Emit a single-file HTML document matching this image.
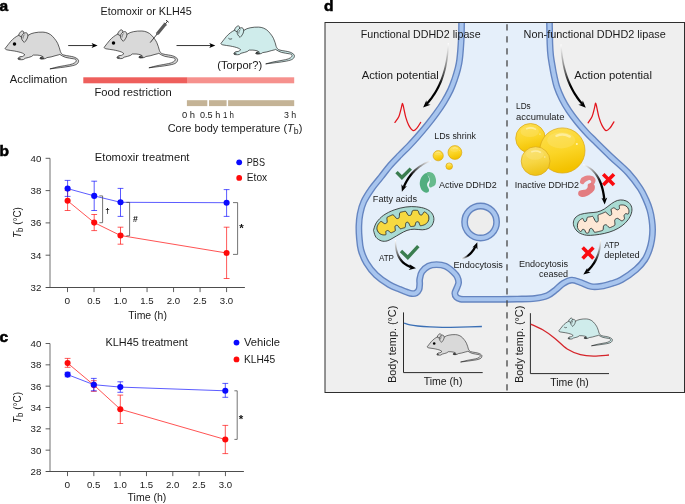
<!DOCTYPE html>
<html lang="en"><head><meta charset="utf-8"><title>Figure</title>
<style>html,body{margin:0;padding:0;background:#fff;}svg{display:block;will-change:transform;}text{font-family:'Liberation Sans', sans-serif;}</style></head>
<body><svg width="685" height="504" viewBox="0 0 685 504">
<rect width="685" height="504" fill="#fff"/>
<defs>
<clipPath id="pc"><rect x="325.5" y="23" width="358.5" height="369"/></clipPath>
<linearGradient id="ldg" x1="0" y1="0" x2="0.25" y2="1"><stop offset="0" stop-color="#fddf55"/><stop offset="0.6" stop-color="#fbd526"/><stop offset="1" stop-color="#f3c200"/></linearGradient>
<linearGradient id="ldg2" x1="0" y1="0" x2="0.25" y2="1"><stop offset="0" stop-color="#fae070"/><stop offset="0.6" stop-color="#f7d644"/><stop offset="1" stop-color="#efc418"/></linearGradient>
<linearGradient id="fa1" gradientUnits="userSpaceOnUse" x1="448.3" y1="43.0" x2="438.6" y2="86.4"><stop offset="0" stop-color="#fff" stop-opacity="0.95"/><stop offset="0.5" stop-color="#8a8a8a"/><stop offset="1" stop-color="#000"/></linearGradient>
<linearGradient id="fa2" gradientUnits="userSpaceOnUse" x1="561.0" y1="44.4" x2="570.9" y2="86.7"><stop offset="0" stop-color="#fff" stop-opacity="0.95"/><stop offset="0.5" stop-color="#8a8a8a"/><stop offset="1" stop-color="#000"/></linearGradient>
<linearGradient id="fa3" gradientUnits="userSpaceOnUse" x1="431.1" y1="160.8" x2="410.5" y2="175.4"><stop offset="0" stop-color="#fff" stop-opacity="0.95"/><stop offset="0.5" stop-color="#8a8a8a"/><stop offset="1" stop-color="#000"/></linearGradient>
<linearGradient id="fa4" gradientUnits="userSpaceOnUse" x1="395.4" y1="240.0" x2="402.8" y2="262.2"><stop offset="0" stop-color="#fff" stop-opacity="0.95"/><stop offset="0.5" stop-color="#8a8a8a"/><stop offset="1" stop-color="#000"/></linearGradient>
<linearGradient id="fa5" gradientUnits="userSpaceOnUse" x1="461.4" y1="258.8" x2="468.2" y2="255.5"><stop offset="0" stop-color="#fff" stop-opacity="0.95"/><stop offset="0.5" stop-color="#8a8a8a"/><stop offset="1" stop-color="#000"/></linearGradient>
<linearGradient id="fa6" gradientUnits="userSpaceOnUse" x1="583.3" y1="164.7" x2="600.5" y2="182.6"><stop offset="0" stop-color="#fff" stop-opacity="0.95"/><stop offset="0.5" stop-color="#8a8a8a"/><stop offset="1" stop-color="#000"/></linearGradient>
<linearGradient id="fa7" gradientUnits="userSpaceOnUse" x1="600.6" y1="239.7" x2="594.1" y2="262.9"><stop offset="0" stop-color="#fff" stop-opacity="0.95"/><stop offset="0.5" stop-color="#8a8a8a"/><stop offset="1" stop-color="#000"/></linearGradient>
</defs>
<text x="-0.6" y="11.2" font-size="15.5" font-weight="bold" fill="#000" stroke="#000" stroke-width="0.55">a</text>
<g transform="translate(0,0) scale(1.0)" stroke="#111" stroke-width="0.650" stroke-linejoin="round" fill="#d9d9d9">
<path d="M5.1,48.5 C7,46 9,43.5 10.7,41.4 C13,38.8 16,36.5 18.6,35.3 C21,34.5 25,34.8 28.2,35.3 C30,34 32,33.2 34.3,32.8 C37,32.2 40,32 42.9,32.1 C46,32.2 50,33.5 52.6,36.4 C55,39 56.8,41.5 57.8,43.7 C59,46.5 59.8,49 60.4,51.5 C61,53.2 62,54.3 63.1,54.8 C65,55.5 67.5,55.8 69.6,56.1 C72,56.5 74.5,57 76.2,58.1 C77.6,58.9 78.5,59.7 78.6,60.7 C78.7,62 78,63.2 76.9,64 C75.5,65 73.5,65.5 71,66 C67.5,66.7 64,67.2 60.4,67.6 C57,68 53.5,68.5 49.9,68.9 C53,68 56,67.3 59.1,66.6 C62.5,65.9 66,65.5 69.6,64.7 C71.5,64.3 73.5,63.7 74.9,62.7 C75.9,62 76.4,61 76.2,60.1 C76,59.3 75,59 73.6,58.8 C71,58.3 68,58 65.7,57.4 C63.5,56.8 61.5,55.5 59.8,54.4 L58.8,54.8 C57.8,55.1 57,55.3 56,55.5 C54.4,56 52.8,56.5 51.1,56.9 C49.7,57.2 48.3,57.4 46.9,57.6 C46.3,58.1 45.8,58.4 45.2,58.6 C44.2,58.9 43,59.05 42,59 C41.2,58.95 40.3,58.9 39.9,58.6 C39.7,58.2 39.9,57.8 40.3,57.6 C41,57.2 41.9,56.9 42.7,56.5 C42.3,56.2 41.8,56 41.3,55.8 C39.9,55.4 38.5,55.2 37.1,55.1 C35.8,55 34.5,55 33.3,55.1 C32.7,55.6 32.1,56.1 31.5,56.5 C30.6,56.9 29.6,57.2 28.7,57.4 C27.5,57.7 26.3,57.9 25.2,58.3 C24.7,58.8 24.1,59.2 23.5,59.5 C22.5,59.75 21.3,59.8 20.3,59.7 C19.5,59.65 18.6,59.6 18.2,59.2 C17.9,58.7 18,58.2 18.3,57.9 C18.8,57.4 19.4,57 20,56.7 C20.8,56.55 21.6,56.6 22.4,56.5 C23.3,56 24.2,55.4 24.9,54.8 C24.2,54.1 23.3,53.5 22.4,53.1 C20.5,52.3 17.5,51.6 14.3,51 C12,50.6 9.5,50.4 7.1,49.9 C6,49.6 5.2,49.2 5.1,48.5Z"/>
<path d="M18.6,35.3 C19,33.8 19.8,32.5 20.7,31.7 C21.4,31.1 22.2,30.8 22.9,31 C23.7,31.3 24,32.2 23.9,33.1 C23.8,34.1 23.4,35.2 22.9,36 L21.5,37Z"/>
<path d="M22.1,39.9 C21.4,38.8 21.2,37.7 21.4,36.7 C21.8,35.2 23,33.8 24.3,33.1 C25,32.7 25.8,32.6 26.4,32.8 C27.5,33.3 28,34.6 27.9,36 C27.8,37.4 27.2,38.8 26.4,39.9 C25.8,40.8 25.1,41.8 24.3,42.4 C23.5,41.8 22.7,40.9 22.1,39.9Z"/>
<path d="M23,38.6 C22.9,37.2 23.5,35.6 24.6,34.6" fill="none" stroke-width="0.520"/>
<path d="M18.4,58.3 L20.4,58.0 M18.3,58.9 L20.8,58.8 M40.2,57.9 L43.6,57.0 M40.1,58.4 L44.2,57.9 M41,58.85 L44,58.5" fill="none" stroke-width="0.585"/>
<circle cx="14.5" cy="44.1" r="1.75" fill="#000" stroke="none"/>
</g>
<g transform="translate(99,-1.1) scale(1.0)" stroke="#111" stroke-width="0.650" stroke-linejoin="round" fill="#d9d9d9">
<path d="M5.1,48.5 C7,46 9,43.5 10.7,41.4 C13,38.8 16,36.5 18.6,35.3 C21,34.5 25,34.8 28.2,35.3 C30,34 32,33.2 34.3,32.8 C37,32.2 40,32 42.9,32.1 C46,32.2 50,33.5 52.6,36.4 C55,39 56.8,41.5 57.8,43.7 C59,46.5 59.8,49 60.4,51.5 C61,53.2 62,54.3 63.1,54.8 C65,55.5 67.5,55.8 69.6,56.1 C72,56.5 74.5,57 76.2,58.1 C77.6,58.9 78.5,59.7 78.6,60.7 C78.7,62 78,63.2 76.9,64 C75.5,65 73.5,65.5 71,66 C67.5,66.7 64,67.2 60.4,67.6 C57,68 53.5,68.5 49.9,68.9 C53,68 56,67.3 59.1,66.6 C62.5,65.9 66,65.5 69.6,64.7 C71.5,64.3 73.5,63.7 74.9,62.7 C75.9,62 76.4,61 76.2,60.1 C76,59.3 75,59 73.6,58.8 C71,58.3 68,58 65.7,57.4 C63.5,56.8 61.5,55.5 59.8,54.4 L58.8,54.8 C57.8,55.1 57,55.3 56,55.5 C54.4,56 52.8,56.5 51.1,56.9 C49.7,57.2 48.3,57.4 46.9,57.6 C46.3,58.1 45.8,58.4 45.2,58.6 C44.2,58.9 43,59.05 42,59 C41.2,58.95 40.3,58.9 39.9,58.6 C39.7,58.2 39.9,57.8 40.3,57.6 C41,57.2 41.9,56.9 42.7,56.5 C42.3,56.2 41.8,56 41.3,55.8 C39.9,55.4 38.5,55.2 37.1,55.1 C35.8,55 34.5,55 33.3,55.1 C32.7,55.6 32.1,56.1 31.5,56.5 C30.6,56.9 29.6,57.2 28.7,57.4 C27.5,57.7 26.3,57.9 25.2,58.3 C24.7,58.8 24.1,59.2 23.5,59.5 C22.5,59.75 21.3,59.8 20.3,59.7 C19.5,59.65 18.6,59.6 18.2,59.2 C17.9,58.7 18,58.2 18.3,57.9 C18.8,57.4 19.4,57 20,56.7 C20.8,56.55 21.6,56.6 22.4,56.5 C23.3,56 24.2,55.4 24.9,54.8 C24.2,54.1 23.3,53.5 22.4,53.1 C20.5,52.3 17.5,51.6 14.3,51 C12,50.6 9.5,50.4 7.1,49.9 C6,49.6 5.2,49.2 5.1,48.5Z"/>
<path d="M18.6,35.3 C19,33.8 19.8,32.5 20.7,31.7 C21.4,31.1 22.2,30.8 22.9,31 C23.7,31.3 24,32.2 23.9,33.1 C23.8,34.1 23.4,35.2 22.9,36 L21.5,37Z"/>
<path d="M22.1,39.9 C21.4,38.8 21.2,37.7 21.4,36.7 C21.8,35.2 23,33.8 24.3,33.1 C25,32.7 25.8,32.6 26.4,32.8 C27.5,33.3 28,34.6 27.9,36 C27.8,37.4 27.2,38.8 26.4,39.9 C25.8,40.8 25.1,41.8 24.3,42.4 C23.5,41.8 22.7,40.9 22.1,39.9Z"/>
<path d="M23,38.6 C22.9,37.2 23.5,35.6 24.6,34.6" fill="none" stroke-width="0.520"/>
<path d="M18.4,58.3 L20.4,58.0 M18.3,58.9 L20.8,58.8 M40.2,57.9 L43.6,57.0 M40.1,58.4 L44.2,57.9 M41,58.85 L44,58.5" fill="none" stroke-width="0.585"/>
<circle cx="14.5" cy="44.1" r="1.75" fill="#000" stroke="none"/>
</g>
<g transform="translate(215.8,-5) scale(1.0)" stroke="#111" stroke-width="0.650" stroke-linejoin="round" fill="#cfeceb">
<path d="M5.1,48.5 C7,46 9,43.5 10.7,41.4 C13,38.8 16,36.5 18.6,35.3 C21,34.5 25,34.8 28.2,35.3 C30,34 32,33.2 34.3,32.8 C37,32.2 40,32 42.9,32.1 C46,32.2 50,33.5 52.6,36.4 C55,39 56.8,41.5 57.8,43.7 C59,46.5 59.8,49 60.4,51.5 C61,53.2 62,54.3 63.1,54.8 C65,55.5 67.5,55.8 69.6,56.1 C72,56.5 74.5,57 76.2,58.1 C77.6,58.9 78.5,59.7 78.6,60.7 C78.7,62 78,63.2 76.9,64 C75.5,65 73.5,65.5 71,66 C67.5,66.7 64,67.2 60.4,67.6 C57,68 53.5,68.5 49.9,68.9 C53,68 56,67.3 59.1,66.6 C62.5,65.9 66,65.5 69.6,64.7 C71.5,64.3 73.5,63.7 74.9,62.7 C75.9,62 76.4,61 76.2,60.1 C76,59.3 75,59 73.6,58.8 C71,58.3 68,58 65.7,57.4 C63.5,56.8 61.5,55.5 59.8,54.4 L58.8,54.8 C57.8,55.1 57,55.3 56,55.5 C54.4,56 52.8,56.5 51.1,56.9 C49.7,57.2 48.3,57.4 46.9,57.6 C46.3,58.1 45.8,58.4 45.2,58.6 C44.2,58.9 43,59.05 42,59 C41.2,58.95 40.3,58.9 39.9,58.6 C39.7,58.2 39.9,57.8 40.3,57.6 C41,57.2 41.9,56.9 42.7,56.5 C42.3,56.2 41.8,56 41.3,55.8 C39.9,55.4 38.5,55.2 37.1,55.1 C35.8,55 34.5,55 33.3,55.1 C32.7,55.6 32.1,56.1 31.5,56.5 C30.6,56.9 29.6,57.2 28.7,57.4 C27.5,57.7 26.3,57.9 25.2,58.3 C24.7,58.8 24.1,59.2 23.5,59.5 C22.5,59.75 21.3,59.8 20.3,59.7 C19.5,59.65 18.6,59.6 18.2,59.2 C17.9,58.7 18,58.2 18.3,57.9 C18.8,57.4 19.4,57 20,56.7 C20.8,56.55 21.6,56.6 22.4,56.5 C23.3,56 24.2,55.4 24.9,54.8 C24.2,54.1 23.3,53.5 22.4,53.1 C20.5,52.3 17.5,51.6 14.3,51 C12,50.6 9.5,50.4 7.1,49.9 C6,49.6 5.2,49.2 5.1,48.5Z"/>
<path d="M18.6,35.3 C19,33.8 19.8,32.5 20.7,31.7 C21.4,31.1 22.2,30.8 22.9,31 C23.7,31.3 24,32.2 23.9,33.1 C23.8,34.1 23.4,35.2 22.9,36 L21.5,37Z"/>
<path d="M22.1,39.9 C21.4,38.8 21.2,37.7 21.4,36.7 C21.8,35.2 23,33.8 24.3,33.1 C25,32.7 25.8,32.6 26.4,32.8 C27.5,33.3 28,34.6 27.9,36 C27.8,37.4 27.2,38.8 26.4,39.9 C25.8,40.8 25.1,41.8 24.3,42.4 C23.5,41.8 22.7,40.9 22.1,39.9Z"/>
<path d="M23,38.6 C22.9,37.2 23.5,35.6 24.6,34.6" fill="none" stroke-width="0.520"/>
<path d="M18.4,58.3 L20.4,58.0 M18.3,58.9 L20.8,58.8 M40.2,57.9 L43.6,57.0 M40.1,58.4 L44.2,57.9 M41,58.85 L44,58.5" fill="none" stroke-width="0.585"/>
<path d="M12.6,43.2 C13.5,44.3 15,44.4 16.3,43.6" fill="none"/>
</g>
<g stroke="#222" fill="none" stroke-linecap="butt"><line x1="150.2" y1="42.6" x2="157.2" y2="34.0" stroke-width="0.85"/><line x1="157.4" y1="33.8" x2="165.3" y2="24.0" stroke-width="3.2" stroke="#5a5a5a"/><path d="M156.3,35.2 L155.9,32.6 L158.4,34.6Z" fill="#5a5a5a" stroke="none"/><line x1="163.9" y1="22.8" x2="166.8" y2="25.1" stroke-width="0.9" stroke="#444"/><line x1="165.3" y1="24.0" x2="167.5" y2="21.2" stroke-width="0.9"/><line x1="166.1" y1="20.2" x2="168.7" y2="22.3" stroke-width="0.95"/></g>
<line x1="68.2" y1="45.55" x2="94.6" y2="45.55" stroke="#000" stroke-width="0.8"/>
<path d="M97.6,45.55 L91.6,43.0 L93.0,45.55 L91.6,48.1Z" fill="#000"/>
<line x1="176.5" y1="45.55" x2="212.3" y2="45.55" stroke="#000" stroke-width="0.8"/>
<path d="M215.3,45.55 L209.3,43.0 L210.70000000000002,45.55 L209.3,48.1Z" fill="#000"/>
<text x="100.6" y="14.5" font-size="10.4" textLength="91.1" lengthAdjust="spacingAndGlyphs" fill="#1a1a1a">Etomoxir or KLH45</text>
<text x="9.8" y="83.4" font-size="10.4" textLength="57.5" lengthAdjust="spacingAndGlyphs" fill="#1a1a1a">Acclimation</text>
<text x="217.2" y="69" font-size="10.4" textLength="45" lengthAdjust="spacingAndGlyphs" fill="#1a1a1a">(Torpor?)</text>
<rect x="83.3" y="77.3" width="103.8" height="6.0" fill="#ee5f5c"/>
<rect x="187" y="77.3" width="107.2" height="6.0" fill="#f6918d"/>
<text x="94.5" y="95.8" font-size="10.4" textLength="77.1" lengthAdjust="spacingAndGlyphs" fill="#1a1a1a">Food restriction</text>
<rect x="186.9" y="100.2" width="20.4" height="5.9" fill="#c4b396"/>
<rect x="209" y="100.2" width="17.6" height="5.9" fill="#c4b396"/>
<rect x="228.1" y="100.2" width="66.1" height="5.9" fill="#c4b396"/>
<text x="181.9" y="117.7" font-size="8.5" textLength="13.1" lengthAdjust="spacingAndGlyphs" fill="#1a1a1a">0 h</text>
<text x="200" y="117.7" font-size="8.5" textLength="20.2" lengthAdjust="spacingAndGlyphs" fill="#1a1a1a">0.5 h</text>
<text x="223" y="117.7" font-size="8.5" textLength="11" lengthAdjust="spacingAndGlyphs" fill="#1a1a1a">1 h</text>
<text x="283.9" y="117.7" font-size="8.5" textLength="12.3" lengthAdjust="spacingAndGlyphs" fill="#1a1a1a">3 h</text>
<text x="167.7" y="132" font-size="10.4" textLength="134.6" lengthAdjust="spacingAndGlyphs" fill="#1a1a1a">Core body temperature (<tspan font-style="italic">T</tspan><tspan dy="2.4" font-size="8.3">b</tspan><tspan dy="-2.4">)</tspan></text>
<text x="-0.6" y="156.3" font-size="15.5" font-weight="bold" fill="#000" stroke="#000" stroke-width="0.55">b</text>
<line x1="50.0" y1="158.3" x2="50.0" y2="287.5" stroke="#4d4d4d" stroke-width="0.8"/>
<line x1="45.6" y1="287.5" x2="244.9" y2="287.5" stroke="#4d4d4d" stroke-width="1"/>
<line x1="45.6" y1="158.30" x2="50.0" y2="158.30" stroke="#4d4d4d" stroke-width="0.9"/>
<text x="41.3" y="161.65" font-size="9.6" text-anchor="end" textLength="10.8" lengthAdjust="spacingAndGlyphs" fill="#1a1a1a">40</text>
<line x1="45.6" y1="190.60" x2="50.0" y2="190.60" stroke="#4d4d4d" stroke-width="0.9"/>
<text x="41.3" y="193.95" font-size="9.6" text-anchor="end" textLength="10.8" lengthAdjust="spacingAndGlyphs" fill="#1a1a1a">38</text>
<line x1="45.6" y1="222.90" x2="50.0" y2="222.90" stroke="#4d4d4d" stroke-width="0.9"/>
<text x="41.3" y="226.25" font-size="9.6" text-anchor="end" textLength="10.8" lengthAdjust="spacingAndGlyphs" fill="#1a1a1a">36</text>
<line x1="45.6" y1="255.20" x2="50.0" y2="255.20" stroke="#4d4d4d" stroke-width="0.9"/>
<text x="41.3" y="258.55" font-size="9.6" text-anchor="end" textLength="10.8" lengthAdjust="spacingAndGlyphs" fill="#1a1a1a">34</text>
<text x="41.3" y="290.85" font-size="9.6" text-anchor="end" textLength="10.8" lengthAdjust="spacingAndGlyphs" fill="#1a1a1a">32</text>
<line x1="67.50" y1="287.5" x2="67.50" y2="292.1" stroke="#4d4d4d" stroke-width="0.9"/>
<text x="67.4" y="303.9" font-size="9.6" text-anchor="middle" textLength="5.6" lengthAdjust="spacingAndGlyphs" fill="#1a1a1a">0</text>
<line x1="94.02" y1="287.5" x2="94.02" y2="292.1" stroke="#4d4d4d" stroke-width="0.9"/>
<text x="93.92" y="303.9" font-size="9.6" text-anchor="middle" textLength="13.4" lengthAdjust="spacingAndGlyphs" fill="#1a1a1a">0.5</text>
<line x1="120.53" y1="287.5" x2="120.53" y2="292.1" stroke="#4d4d4d" stroke-width="0.9"/>
<text x="120.43" y="303.9" font-size="9.6" text-anchor="middle" textLength="13.4" lengthAdjust="spacingAndGlyphs" fill="#1a1a1a">1.0</text>
<line x1="147.05" y1="287.5" x2="147.05" y2="292.1" stroke="#4d4d4d" stroke-width="0.9"/>
<text x="146.95" y="303.9" font-size="9.6" text-anchor="middle" textLength="13.4" lengthAdjust="spacingAndGlyphs" fill="#1a1a1a">1.5</text>
<line x1="173.56" y1="287.5" x2="173.56" y2="292.1" stroke="#4d4d4d" stroke-width="0.9"/>
<text x="173.46" y="303.9" font-size="9.6" text-anchor="middle" textLength="13.4" lengthAdjust="spacingAndGlyphs" fill="#1a1a1a">2.0</text>
<line x1="200.07" y1="287.5" x2="200.07" y2="292.1" stroke="#4d4d4d" stroke-width="0.9"/>
<text x="199.97" y="303.9" font-size="9.6" text-anchor="middle" textLength="13.4" lengthAdjust="spacingAndGlyphs" fill="#1a1a1a">2.5</text>
<line x1="226.59" y1="287.5" x2="226.59" y2="292.1" stroke="#4d4d4d" stroke-width="0.9"/>
<text x="226.49" y="303.9" font-size="9.6" text-anchor="middle" textLength="13.4" lengthAdjust="spacingAndGlyphs" fill="#1a1a1a">3.0</text>
<text x="94.8" y="161" font-size="10.4" textLength="94.7" lengthAdjust="spacingAndGlyphs" fill="#1a1a1a">Etomoxir treatment</text>
<path d="M67.6,200.8 L94.2,222.6 L120.5,235.5 L226.6,253" stroke="#ff4040" stroke-width="0.9" fill="none"/>
<path d="M67.6,190.6 V210.5 M64.69999999999999,190.6 H70.5 M64.69999999999999,210.5 H70.5" stroke="#ff0a0a" stroke-width="0.68" fill="none"/>
<path d="M94.2,214.5 V230.6 M91.3,214.5 H97.10000000000001 M91.3,230.6 H97.10000000000001" stroke="#ff0a0a" stroke-width="0.68" fill="none"/>
<path d="M120.5,227.2 V244.2 M117.6,227.2 H123.4 M117.6,244.2 H123.4" stroke="#ff0a0a" stroke-width="0.68" fill="none"/>
<path d="M226.6,227.2 V278.5 M223.7,227.2 H229.5 M223.7,278.5 H229.5" stroke="#ff0a0a" stroke-width="0.68" fill="none"/>
<circle cx="67.6" cy="200.8" r="3.05" fill="#ff0a0a"/>
<circle cx="94.2" cy="222.6" r="3.05" fill="#ff0a0a"/>
<circle cx="120.5" cy="235.5" r="3.05" fill="#ff0a0a"/>
<circle cx="226.6" cy="253" r="3.05" fill="#ff0a0a"/>
<path d="M67.6,188.6 L94.2,195.9 L120.5,202.3 L226.6,202.7" stroke="#4a4aff" stroke-width="0.9" fill="none"/>
<path d="M67.6,180.4 V196.4 M64.69999999999999,180.4 H70.5 M64.69999999999999,196.4 H70.5" stroke="#0a0aff" stroke-width="0.68" fill="none"/>
<path d="M94.2,181.2 V210.5 M91.3,181.2 H97.10000000000001 M91.3,210.5 H97.10000000000001" stroke="#0a0aff" stroke-width="0.68" fill="none"/>
<path d="M120.5,188.4 V216.4 M117.6,188.4 H123.4 M117.6,216.4 H123.4" stroke="#0a0aff" stroke-width="0.68" fill="none"/>
<path d="M226.6,189.6 V216.4 M223.7,189.6 H229.5 M223.7,216.4 H229.5" stroke="#0a0aff" stroke-width="0.68" fill="none"/>
<circle cx="67.6" cy="188.6" r="3.05" fill="#0a0aff"/>
<circle cx="94.2" cy="195.9" r="3.05" fill="#0a0aff"/>
<circle cx="120.5" cy="202.3" r="3.05" fill="#0a0aff"/>
<circle cx="226.6" cy="202.7" r="3.05" fill="#0a0aff"/>
<path d="M99.4,195.9 H102.6 V222.7 H99.4" stroke="#3a3a3a" stroke-width="0.7" fill="none"/>
<path d="M126.4,202.4 H129.6 V235.8 H126.4" stroke="#3a3a3a" stroke-width="0.7" fill="none"/>
<path d="M233,202.6 H237.6 V254.4 H233" stroke="#3a3a3a" stroke-width="0.7" fill="none"/>
<text x="107.5" y="212.8" font-size="8" text-anchor="middle" font-weight="bold" fill="#111">†</text>
<text x="135.3" y="221.8" font-size="8.6" text-anchor="middle" font-weight="bold" fill="#111">#</text>
<text x="241.6" y="232.4" font-size="11.5" text-anchor="middle" font-weight="bold" fill="#111">*</text>
<circle cx="239.2" cy="162.3" r="2.9" fill="#0a0aff"/><circle cx="239.2" cy="177.9" r="2.9" fill="#ff0a0a"/>
<text x="246.8" y="165.8" font-size="10.4" textLength="18.2" lengthAdjust="spacingAndGlyphs" fill="#1a1a1a">PBS</text>
<text x="246.8" y="181.4" font-size="10.4" textLength="20.4" lengthAdjust="spacingAndGlyphs" fill="#1a1a1a">Etox</text>
<text x="128.3" y="319.3" font-size="10.4" textLength="38.6" lengthAdjust="spacingAndGlyphs" fill="#1a1a1a">Time (h)</text>
<g transform="translate(20.6,222.6) rotate(-90)">
<text x="0" y="0" font-size="10.4" text-anchor="middle" textLength="31" lengthAdjust="spacingAndGlyphs" fill="#1a1a1a"><tspan font-style="italic">T</tspan><tspan dy="2.5" font-size="8.3">b</tspan><tspan dy="-2.5"> (°C)</tspan></text>
</g>
<text x="-0.6" y="342.3" font-size="15.5" font-weight="bold" fill="#000" stroke="#000" stroke-width="0.55">c</text>
<line x1="50.0" y1="343.5" x2="50.0" y2="471.5" stroke="#4d4d4d" stroke-width="0.8"/>
<line x1="45.6" y1="471.5" x2="243.9" y2="471.5" stroke="#4d4d4d" stroke-width="1"/>
<line x1="45.6" y1="343.50" x2="50.0" y2="343.50" stroke="#4d4d4d" stroke-width="0.9"/>
<text x="41.3" y="346.85" font-size="9.6" text-anchor="end" textLength="10.8" lengthAdjust="spacingAndGlyphs" fill="#1a1a1a">40</text>
<line x1="45.6" y1="364.83" x2="50.0" y2="364.83" stroke="#4d4d4d" stroke-width="0.9"/>
<text x="41.3" y="368.18" font-size="9.6" text-anchor="end" textLength="10.8" lengthAdjust="spacingAndGlyphs" fill="#1a1a1a">38</text>
<line x1="45.6" y1="386.17" x2="50.0" y2="386.17" stroke="#4d4d4d" stroke-width="0.9"/>
<text x="41.3" y="389.52" font-size="9.6" text-anchor="end" textLength="10.8" lengthAdjust="spacingAndGlyphs" fill="#1a1a1a">36</text>
<line x1="45.6" y1="407.50" x2="50.0" y2="407.50" stroke="#4d4d4d" stroke-width="0.9"/>
<text x="41.3" y="410.85" font-size="9.6" text-anchor="end" textLength="10.8" lengthAdjust="spacingAndGlyphs" fill="#1a1a1a">34</text>
<line x1="45.6" y1="428.83" x2="50.0" y2="428.83" stroke="#4d4d4d" stroke-width="0.9"/>
<text x="41.3" y="432.18" font-size="9.6" text-anchor="end" textLength="10.8" lengthAdjust="spacingAndGlyphs" fill="#1a1a1a">32</text>
<line x1="45.6" y1="450.17" x2="50.0" y2="450.17" stroke="#4d4d4d" stroke-width="0.9"/>
<text x="41.3" y="453.52" font-size="9.6" text-anchor="end" textLength="10.8" lengthAdjust="spacingAndGlyphs" fill="#1a1a1a">30</text>
<text x="41.3" y="474.85" font-size="9.6" text-anchor="end" textLength="10.8" lengthAdjust="spacingAndGlyphs" fill="#1a1a1a">28</text>
<line x1="67.50" y1="471.5" x2="67.50" y2="476.1" stroke="#4d4d4d" stroke-width="0.9"/>
<text x="67.4" y="487.5" font-size="9.6" text-anchor="middle" textLength="5.6" lengthAdjust="spacingAndGlyphs" fill="#1a1a1a">0</text>
<line x1="93.83" y1="471.5" x2="93.83" y2="476.1" stroke="#4d4d4d" stroke-width="0.9"/>
<text x="93.73" y="487.5" font-size="9.6" text-anchor="middle" textLength="13.4" lengthAdjust="spacingAndGlyphs" fill="#1a1a1a">0.5</text>
<line x1="120.15" y1="471.5" x2="120.15" y2="476.1" stroke="#4d4d4d" stroke-width="0.9"/>
<text x="120.05" y="487.5" font-size="9.6" text-anchor="middle" textLength="13.4" lengthAdjust="spacingAndGlyphs" fill="#1a1a1a">1.0</text>
<line x1="146.47" y1="471.5" x2="146.47" y2="476.1" stroke="#4d4d4d" stroke-width="0.9"/>
<text x="146.38" y="487.5" font-size="9.6" text-anchor="middle" textLength="13.4" lengthAdjust="spacingAndGlyphs" fill="#1a1a1a">1.5</text>
<line x1="172.80" y1="471.5" x2="172.80" y2="476.1" stroke="#4d4d4d" stroke-width="0.9"/>
<text x="172.7" y="487.5" font-size="9.6" text-anchor="middle" textLength="13.4" lengthAdjust="spacingAndGlyphs" fill="#1a1a1a">2.0</text>
<line x1="199.12" y1="471.5" x2="199.12" y2="476.1" stroke="#4d4d4d" stroke-width="0.9"/>
<text x="199.03" y="487.5" font-size="9.6" text-anchor="middle" textLength="13.4" lengthAdjust="spacingAndGlyphs" fill="#1a1a1a">2.5</text>
<line x1="225.45" y1="471.5" x2="225.45" y2="476.1" stroke="#4d4d4d" stroke-width="0.9"/>
<text x="225.35" y="487.5" font-size="9.6" text-anchor="middle" textLength="13.4" lengthAdjust="spacingAndGlyphs" fill="#1a1a1a">3.0</text>
<text x="105.5" y="345.5" font-size="10.4" textLength="82.3" lengthAdjust="spacingAndGlyphs" fill="#1a1a1a">KLH45 treatment</text>
<path d="M67.6,363.1 L93.8,385.0 L120.3,409.2 L225.3,439.5" stroke="#ff4040" stroke-width="0.9" fill="none"/>
<path d="M67.6,358.4 V367.3 M64.69999999999999,358.4 H70.5 M64.69999999999999,367.3 H70.5" stroke="#ff0a0a" stroke-width="0.68" fill="none"/>
<path d="M93.8,380.7 V391.3 M90.89999999999999,380.7 H96.7 M90.89999999999999,391.3 H96.7" stroke="#ff0a0a" stroke-width="0.68" fill="none"/>
<path d="M120.3,395.1 V423.5 M117.39999999999999,395.1 H123.2 M117.39999999999999,423.5 H123.2" stroke="#ff0a0a" stroke-width="0.68" fill="none"/>
<path d="M225.3,425.4 V453.6 M222.4,425.4 H228.20000000000002 M222.4,453.6 H228.20000000000002" stroke="#ff0a0a" stroke-width="0.68" fill="none"/>
<circle cx="67.6" cy="363.1" r="3.05" fill="#ff0a0a"/>
<circle cx="93.8" cy="385.0" r="3.05" fill="#ff0a0a"/>
<circle cx="120.3" cy="409.2" r="3.05" fill="#ff0a0a"/>
<circle cx="225.3" cy="439.5" r="3.05" fill="#ff0a0a"/>
<path d="M67.6,374.6 L93.8,384.7 L120.3,387.1 L225.3,390.8" stroke="#4a4aff" stroke-width="0.9" fill="none"/>
<path d="M67.6,372.3 V376.8 M64.69999999999999,372.3 H70.5 M64.69999999999999,376.8 H70.5" stroke="#0a0aff" stroke-width="0.68" fill="none"/>
<path d="M93.8,378.4 V390.8 M90.89999999999999,378.4 H96.7 M90.89999999999999,390.8 H96.7" stroke="#0a0aff" stroke-width="0.68" fill="none"/>
<path d="M120.3,381.8 V392.3 M117.39999999999999,381.8 H123.2 M117.39999999999999,392.3 H123.2" stroke="#0a0aff" stroke-width="0.68" fill="none"/>
<path d="M225.3,383.4 V397.3 M222.4,383.4 H228.20000000000002 M222.4,397.3 H228.20000000000002" stroke="#0a0aff" stroke-width="0.68" fill="none"/>
<circle cx="67.6" cy="374.6" r="3.05" fill="#0a0aff"/>
<circle cx="93.8" cy="384.7" r="3.05" fill="#0a0aff"/>
<circle cx="120.3" cy="387.1" r="3.05" fill="#0a0aff"/>
<circle cx="225.3" cy="390.8" r="3.05" fill="#0a0aff"/>
<path d="M234.4,390.8 H237.2 V439.4 H234.4" stroke="#3a3a3a" stroke-width="0.7" fill="none"/>
<text x="241.1" y="423.2" font-size="11.5" text-anchor="middle" font-weight="bold" fill="#111">*</text>
<circle cx="236.5" cy="342.6" r="2.9" fill="#0a0aff"/><circle cx="236.5" cy="359.4" r="2.9" fill="#ff0a0a"/>
<text x="243.9" y="346.3" font-size="10.4" textLength="36.1" lengthAdjust="spacingAndGlyphs" fill="#1a1a1a">Vehicle</text>
<text x="243.9" y="362.9" font-size="10.4" textLength="31.3" lengthAdjust="spacingAndGlyphs" fill="#1a1a1a">KLH45</text>
<text x="127.6" y="501.2" font-size="10.4" textLength="38.7" lengthAdjust="spacingAndGlyphs" fill="#1a1a1a">Time (h)</text>
<g transform="translate(20.6,407.5) rotate(-90)">
<text x="0" y="0" font-size="10.4" text-anchor="middle" textLength="31" lengthAdjust="spacingAndGlyphs" fill="#1a1a1a"><tspan font-style="italic">T</tspan><tspan dy="2.5" font-size="8.3">b</tspan><tspan dy="-2.5"> (°C)</tspan></text>
</g>
<text x="324.0" y="10.7" font-size="15.5" font-weight="bold" fill="#000" stroke="#000" stroke-width="0.55">d</text>
<rect x="325" y="22.5" width="359.5" height="370" fill="#efefef" stroke="#2e2e2e" stroke-width="1"/>
<g clip-path="url(#pc)">
<path d="M461.60,18.00C461.60,18.83 461.67,19.37 461.60,23.00C461.53,26.63 461.53,33.68 461.20,39.80C460.87,45.92 460.20,54.73 459.60,59.70C459.00,64.67 458.43,66.30 457.60,69.60C456.77,72.90 455.78,76.10 454.60,79.50C453.42,82.90 452.27,86.27 450.50,90.00C448.73,93.73 446.42,97.93 444.00,101.90C441.58,105.87 438.87,109.83 436.00,113.80C433.13,117.77 430.02,121.73 426.80,125.70C423.58,129.67 419.75,134.13 416.70,137.60C413.65,141.07 411.28,143.60 408.50,146.50C405.72,149.40 403.00,151.92 400.00,155.00C397.00,158.08 393.67,161.33 390.50,165.00C387.33,168.67 384.17,173.00 381.00,177.00C377.83,181.00 374.38,184.85 371.50,189.00C368.62,193.15 365.60,197.77 363.70,201.90C361.80,206.03 360.90,209.83 360.10,213.80C359.30,217.77 359.03,221.73 358.90,225.70C358.77,229.67 358.95,233.55 359.30,237.60C359.65,241.65 359.80,245.77 361.00,250.00C362.20,254.23 364.00,258.83 366.50,263.00C369.00,267.17 372.25,271.42 376.00,275.00C379.75,278.58 385.00,282.10 389.00,284.50C393.00,286.90 396.95,288.10 400.00,289.40C403.05,290.70 405.30,291.60 407.30,292.30C409.30,293.00 410.55,293.48 412.00,293.60C413.45,293.72 414.83,293.68 416.00,293.00C417.17,292.32 418.38,291.00 419.00,289.50C419.62,288.00 419.58,285.72 419.70,284.00C419.82,282.28 419.33,281.22 419.70,279.20C420.07,277.18 420.43,274.08 421.90,271.90C423.37,269.72 426.07,267.32 428.50,266.10C430.93,264.88 433.70,264.60 436.50,264.60C439.30,264.60 442.50,264.88 445.30,266.10C448.10,267.32 451.30,270.08 453.30,271.90C455.30,273.72 456.42,275.18 457.30,277.00C458.18,278.82 458.72,280.88 458.60,282.80C458.48,284.72 457.23,286.77 456.60,288.50C455.97,290.23 454.83,291.75 454.80,293.20C454.77,294.65 455.45,296.22 456.40,297.20C457.35,298.18 458.90,298.75 460.50,299.10C462.10,299.45 462.75,299.27 466.00,299.30C469.25,299.33 474.33,299.30 480.00,299.30C485.67,299.30 493.75,299.33 500.00,299.30C506.25,299.27 511.67,299.25 517.50,299.10C523.33,298.95 530.03,298.98 535.00,298.40C539.97,297.82 543.78,297.08 547.30,295.60C550.82,294.12 553.47,291.52 556.10,289.50C558.73,287.48 560.48,285.07 563.10,283.50C565.72,281.93 568.88,280.27 571.80,280.10C574.72,279.93 577.38,281.43 580.60,282.50C583.82,283.57 587.60,285.88 591.10,286.50C594.60,287.12 598.10,286.72 601.60,286.20C605.10,285.68 608.78,284.47 612.10,283.40C615.42,282.33 617.48,282.13 621.50,279.80C625.52,277.47 632.30,272.78 636.20,269.40C640.10,266.02 642.70,262.80 644.90,259.50C647.10,256.20 648.25,252.90 649.40,249.60C650.55,246.30 651.27,243.00 651.80,239.70C652.33,236.40 652.60,233.12 652.60,229.80C652.60,226.48 652.27,223.12 651.80,219.80C651.33,216.48 650.75,213.20 649.80,209.90C648.85,206.60 647.70,203.57 646.10,200.00C644.50,196.43 643.22,193.07 640.20,188.50C637.18,183.93 632.88,177.90 628.00,172.60C623.12,167.30 616.45,161.98 610.90,156.70C605.35,151.42 598.68,144.82 594.70,140.90C590.72,136.98 589.83,136.25 587.00,133.20C584.17,130.15 580.73,126.35 577.70,122.60C574.67,118.85 571.43,114.67 568.80,110.70C566.17,106.73 563.88,102.77 561.90,98.80C559.92,94.83 558.22,90.87 556.90,86.90C555.58,82.93 554.72,78.22 554.00,75.00C553.28,71.78 553.15,70.82 552.60,67.60C552.05,64.38 551.15,59.67 550.70,55.70C550.25,51.73 550.10,49.15 549.90,43.80C549.70,38.45 549.57,27.90 549.50,23.60C549.43,19.30 549.50,18.93 549.50,18.00Z" fill="#e5effa"/>
<path d="M461.60,18.00C461.60,18.83 461.67,19.37 461.60,23.00C461.53,26.63 461.53,33.68 461.20,39.80C460.87,45.92 460.20,54.73 459.60,59.70C459.00,64.67 458.43,66.30 457.60,69.60C456.77,72.90 455.78,76.10 454.60,79.50C453.42,82.90 452.27,86.27 450.50,90.00C448.73,93.73 446.42,97.93 444.00,101.90C441.58,105.87 438.87,109.83 436.00,113.80C433.13,117.77 430.02,121.73 426.80,125.70C423.58,129.67 419.75,134.13 416.70,137.60C413.65,141.07 411.28,143.60 408.50,146.50C405.72,149.40 403.00,151.92 400.00,155.00C397.00,158.08 393.67,161.33 390.50,165.00C387.33,168.67 384.17,173.00 381.00,177.00C377.83,181.00 374.38,184.85 371.50,189.00C368.62,193.15 365.60,197.77 363.70,201.90C361.80,206.03 360.90,209.83 360.10,213.80C359.30,217.77 359.03,221.73 358.90,225.70C358.77,229.67 358.95,233.55 359.30,237.60C359.65,241.65 359.80,245.77 361.00,250.00C362.20,254.23 364.00,258.83 366.50,263.00C369.00,267.17 372.25,271.42 376.00,275.00C379.75,278.58 385.00,282.10 389.00,284.50C393.00,286.90 396.95,288.10 400.00,289.40C403.05,290.70 405.30,291.60 407.30,292.30C409.30,293.00 410.55,293.48 412.00,293.60C413.45,293.72 414.83,293.68 416.00,293.00C417.17,292.32 418.38,291.00 419.00,289.50C419.62,288.00 419.58,285.72 419.70,284.00C419.82,282.28 419.33,281.22 419.70,279.20C420.07,277.18 420.43,274.08 421.90,271.90C423.37,269.72 426.07,267.32 428.50,266.10C430.93,264.88 433.70,264.60 436.50,264.60C439.30,264.60 442.50,264.88 445.30,266.10C448.10,267.32 451.30,270.08 453.30,271.90C455.30,273.72 456.42,275.18 457.30,277.00C458.18,278.82 458.72,280.88 458.60,282.80C458.48,284.72 457.23,286.77 456.60,288.50C455.97,290.23 454.83,291.75 454.80,293.20C454.77,294.65 455.45,296.22 456.40,297.20C457.35,298.18 458.90,298.75 460.50,299.10C462.10,299.45 462.75,299.27 466.00,299.30C469.25,299.33 474.33,299.30 480.00,299.30C485.67,299.30 493.75,299.33 500.00,299.30C506.25,299.27 511.67,299.25 517.50,299.10C523.33,298.95 530.03,298.98 535.00,298.40C539.97,297.82 543.78,297.08 547.30,295.60C550.82,294.12 553.47,291.52 556.10,289.50C558.73,287.48 560.48,285.07 563.10,283.50C565.72,281.93 568.88,280.27 571.80,280.10C574.72,279.93 577.38,281.43 580.60,282.50C583.82,283.57 587.60,285.88 591.10,286.50C594.60,287.12 598.10,286.72 601.60,286.20C605.10,285.68 608.78,284.47 612.10,283.40C615.42,282.33 617.48,282.13 621.50,279.80C625.52,277.47 632.30,272.78 636.20,269.40C640.10,266.02 642.70,262.80 644.90,259.50C647.10,256.20 648.25,252.90 649.40,249.60C650.55,246.30 651.27,243.00 651.80,239.70C652.33,236.40 652.60,233.12 652.60,229.80C652.60,226.48 652.27,223.12 651.80,219.80C651.33,216.48 650.75,213.20 649.80,209.90C648.85,206.60 647.70,203.57 646.10,200.00C644.50,196.43 643.22,193.07 640.20,188.50C637.18,183.93 632.88,177.90 628.00,172.60C623.12,167.30 616.45,161.98 610.90,156.70C605.35,151.42 598.68,144.82 594.70,140.90C590.72,136.98 589.83,136.25 587.00,133.20C584.17,130.15 580.73,126.35 577.70,122.60C574.67,118.85 571.43,114.67 568.80,110.70C566.17,106.73 563.88,102.77 561.90,98.80C559.92,94.83 558.22,90.87 556.90,86.90C555.58,82.93 554.72,78.22 554.00,75.00C553.28,71.78 553.15,70.82 552.60,67.60C552.05,64.38 551.15,59.67 550.70,55.70C550.25,51.73 550.10,49.15 549.90,43.80C549.70,38.45 549.57,27.90 549.50,23.60C549.43,19.30 549.50,18.93 549.50,18.00" fill="none" stroke="#6585c0" stroke-width="6.8"/>
<path d="M461.60,18.00C461.60,18.83 461.67,19.37 461.60,23.00C461.53,26.63 461.53,33.68 461.20,39.80C460.87,45.92 460.20,54.73 459.60,59.70C459.00,64.67 458.43,66.30 457.60,69.60C456.77,72.90 455.78,76.10 454.60,79.50C453.42,82.90 452.27,86.27 450.50,90.00C448.73,93.73 446.42,97.93 444.00,101.90C441.58,105.87 438.87,109.83 436.00,113.80C433.13,117.77 430.02,121.73 426.80,125.70C423.58,129.67 419.75,134.13 416.70,137.60C413.65,141.07 411.28,143.60 408.50,146.50C405.72,149.40 403.00,151.92 400.00,155.00C397.00,158.08 393.67,161.33 390.50,165.00C387.33,168.67 384.17,173.00 381.00,177.00C377.83,181.00 374.38,184.85 371.50,189.00C368.62,193.15 365.60,197.77 363.70,201.90C361.80,206.03 360.90,209.83 360.10,213.80C359.30,217.77 359.03,221.73 358.90,225.70C358.77,229.67 358.95,233.55 359.30,237.60C359.65,241.65 359.80,245.77 361.00,250.00C362.20,254.23 364.00,258.83 366.50,263.00C369.00,267.17 372.25,271.42 376.00,275.00C379.75,278.58 385.00,282.10 389.00,284.50C393.00,286.90 396.95,288.10 400.00,289.40C403.05,290.70 405.30,291.60 407.30,292.30C409.30,293.00 410.55,293.48 412.00,293.60C413.45,293.72 414.83,293.68 416.00,293.00C417.17,292.32 418.38,291.00 419.00,289.50C419.62,288.00 419.58,285.72 419.70,284.00C419.82,282.28 419.33,281.22 419.70,279.20C420.07,277.18 420.43,274.08 421.90,271.90C423.37,269.72 426.07,267.32 428.50,266.10C430.93,264.88 433.70,264.60 436.50,264.60C439.30,264.60 442.50,264.88 445.30,266.10C448.10,267.32 451.30,270.08 453.30,271.90C455.30,273.72 456.42,275.18 457.30,277.00C458.18,278.82 458.72,280.88 458.60,282.80C458.48,284.72 457.23,286.77 456.60,288.50C455.97,290.23 454.83,291.75 454.80,293.20C454.77,294.65 455.45,296.22 456.40,297.20C457.35,298.18 458.90,298.75 460.50,299.10C462.10,299.45 462.75,299.27 466.00,299.30C469.25,299.33 474.33,299.30 480.00,299.30C485.67,299.30 493.75,299.33 500.00,299.30C506.25,299.27 511.67,299.25 517.50,299.10C523.33,298.95 530.03,298.98 535.00,298.40C539.97,297.82 543.78,297.08 547.30,295.60C550.82,294.12 553.47,291.52 556.10,289.50C558.73,287.48 560.48,285.07 563.10,283.50C565.72,281.93 568.88,280.27 571.80,280.10C574.72,279.93 577.38,281.43 580.60,282.50C583.82,283.57 587.60,285.88 591.10,286.50C594.60,287.12 598.10,286.72 601.60,286.20C605.10,285.68 608.78,284.47 612.10,283.40C615.42,282.33 617.48,282.13 621.50,279.80C625.52,277.47 632.30,272.78 636.20,269.40C640.10,266.02 642.70,262.80 644.90,259.50C647.10,256.20 648.25,252.90 649.40,249.60C650.55,246.30 651.27,243.00 651.80,239.70C652.33,236.40 652.60,233.12 652.60,229.80C652.60,226.48 652.27,223.12 651.80,219.80C651.33,216.48 650.75,213.20 649.80,209.90C648.85,206.60 647.70,203.57 646.10,200.00C644.50,196.43 643.22,193.07 640.20,188.50C637.18,183.93 632.88,177.90 628.00,172.60C623.12,167.30 616.45,161.98 610.90,156.70C605.35,151.42 598.68,144.82 594.70,140.90C590.72,136.98 589.83,136.25 587.00,133.20C584.17,130.15 580.73,126.35 577.70,122.60C574.67,118.85 571.43,114.67 568.80,110.70C566.17,106.73 563.88,102.77 561.90,98.80C559.92,94.83 558.22,90.87 556.90,86.90C555.58,82.93 554.72,78.22 554.00,75.00C553.28,71.78 553.15,70.82 552.60,67.60C552.05,64.38 551.15,59.67 550.70,55.70C550.25,51.73 550.10,49.15 549.90,43.80C549.70,38.45 549.57,27.90 549.50,23.60C549.43,19.30 549.50,18.93 549.50,18.00" fill="none" stroke="#a8c5ee" stroke-width="4.05"/>
</g>
<circle cx="480.6" cy="222" r="16" fill="#ededed" stroke="#6585c0" stroke-width="6.8"/>
<circle cx="480.6" cy="222" r="16" fill="none" stroke="#a8c5ee" stroke-width="4.05"/>
<line x1="507" y1="24.3" x2="507" y2="392" stroke="#4a4a4a" stroke-width="1.35" stroke-dasharray="6.2 5.8"/>
<text x="360.8" y="37.5" font-size="10.4" textLength="119.8" lengthAdjust="spacingAndGlyphs" fill="#1a1a1a">Functional DDHD2 lipase</text>
<text x="523.6" y="37.5" font-size="10.4" textLength="142.2" lengthAdjust="spacingAndGlyphs" fill="#1a1a1a">Non-functional DDHD2 lipase</text>
<text x="361.7" y="78.6" font-size="10.4" textLength="77.2" lengthAdjust="spacingAndGlyphs" fill="#1a1a1a">Action potential</text>
<text x="574.2" y="78.6" font-size="10.4" textLength="77.8" lengthAdjust="spacingAndGlyphs" fill="#1a1a1a">Action potential</text>
<path d="M447.70,42.98 L447.53,46.16 L447.30,49.28 L447.00,52.33 L446.63,55.33 L446.20,58.27 L445.71,61.16 L445.15,63.98 L444.52,66.74 L443.83,69.44 L443.07,72.09 L442.25,74.67 L441.36,77.20 L440.41,79.66 L439.40,82.07 L438.33,84.42 L437.22,86.73 L436.04,88.97 L434.80,91.16 L433.49,93.30 L432.12,95.37 L430.68,97.39 L429.17,99.36 L427.60,101.27 L425.97,103.12 L427.59,104.60 L429.28,102.69 L430.90,100.73 L432.45,98.70 L433.93,96.62 L435.35,94.48 L436.69,92.28 L437.97,90.03 L439.19,87.72 L440.33,85.35 L441.40,82.92 L442.37,80.42 L443.28,77.87 L444.12,75.27 L444.89,72.61 L445.60,69.90 L446.24,67.13 L446.80,64.31 L447.31,61.43 L447.74,58.50 L448.11,55.51 L448.41,52.47 L448.64,49.38 L448.81,46.23 L448.90,43.02Z" fill="url(#fa1)"/><path d="M423.10,107.60 L426.35,100.26 L426.97,103.94 L430.61,104.77Z" fill="#000"/>
<path d="M560.40,44.43 L560.54,47.51 L560.75,50.55 L561.03,53.53 L561.36,56.47 L561.75,59.35 L562.21,62.19 L562.72,64.98 L563.30,67.71 L563.94,70.40 L564.64,73.04 L565.40,75.63 L566.22,78.16 L567.11,80.65 L568.06,83.09 L569.09,85.47 L570.19,87.80 L571.36,90.07 L572.59,92.29 L573.88,94.46 L575.23,96.57 L576.64,98.64 L578.11,100.65 L579.65,102.61 L581.24,104.52 L582.91,103.08 L581.36,101.22 L579.86,99.32 L578.43,97.37 L577.06,95.36 L575.75,93.30 L574.49,91.19 L573.30,89.03 L572.17,86.82 L571.09,84.56 L570.06,82.25 L569.07,79.89 L568.14,77.48 L567.27,75.02 L566.46,72.50 L565.71,69.93 L565.01,67.31 L564.38,64.63 L563.80,61.90 L563.29,59.11 L562.83,56.27 L562.43,53.37 L562.10,50.43 L561.82,47.43 L561.60,44.37Z" fill="url(#fa2)"/><path d="M585.80,107.80 L578.38,104.76 L582.03,104.03 L582.76,100.38Z" fill="#000"/>
<path d="M394.90,122.40C395.57,121.40 397.83,118.83 398.90,116.40C399.97,113.97 400.70,109.97 401.30,107.80C401.90,105.63 402.08,103.32 402.50,103.40C402.92,103.48 403.25,105.97 403.80,108.30C404.35,110.63 404.97,114.55 405.80,117.40C406.63,120.25 407.57,123.20 408.80,125.40C410.03,127.60 411.85,130.13 413.20,130.60C414.55,131.07 415.65,129.57 416.90,128.20C418.15,126.83 420.07,123.37 420.70,122.40" fill="none" stroke="#e3141c" stroke-width="1.25" stroke-linecap="round"/>
<path d="M588.10,122.80C588.77,121.73 591.03,118.90 592.10,116.40C593.17,113.90 593.90,110.00 594.50,107.80C595.10,105.60 595.28,103.12 595.70,103.20C596.12,103.28 596.45,105.93 597.00,108.30C597.55,110.67 598.17,114.55 599.00,117.40C599.83,120.25 600.83,123.20 602.00,125.40C603.17,127.60 604.67,130.17 606.00,130.60C607.33,131.03 608.68,129.45 610.00,128.00C611.32,126.55 613.25,122.92 613.90,121.90" fill="none" stroke="#e3141c" stroke-width="1.25" stroke-linecap="round"/>
<text x="434.3" y="138.8" font-size="8.3" textLength="41.7" lengthAdjust="spacingAndGlyphs" fill="#1a1a1a">LDs shrink</text>
<circle cx="438.2" cy="155.7" r="5.1" fill="url(#ldg)" stroke="#d9a616" stroke-width="0.7"/>
<ellipse cx="437.94" cy="153.41" rx="3.16" ry="1.84" fill="#fff3a8" opacity="0.22"/>
<path d="M436.86,152.39 A3.57,3.57 0 0 1 439.88,152.55" fill="none" stroke="#fff6c8" stroke-opacity="0.6" stroke-width="0.56" stroke-linecap="round"/>
<circle cx="441.46" cy="154.25" r="0.35" fill="#fff" opacity="0.65"/>
<circle cx="454.9" cy="152.5" r="6.9" fill="url(#ldg)" stroke="#d9a616" stroke-width="0.7"/>
<ellipse cx="454.55" cy="149.40" rx="4.28" ry="2.48" fill="#fff3a8" opacity="0.22"/>
<path d="M453.09,148.02 A4.83,4.83 0 0 1 457.17,148.24" fill="none" stroke="#fff6c8" stroke-opacity="0.6" stroke-width="0.76" stroke-linecap="round"/>
<circle cx="459.31" cy="150.54" r="0.35" fill="#fff" opacity="0.65"/>
<circle cx="449.2" cy="166.2" r="3.3" fill="url(#ldg)" stroke="#d9a616" stroke-width="0.7"/>
<ellipse cx="449.03" cy="164.71" rx="2.05" ry="1.19" fill="#fff3a8" opacity="0.22"/>
<path d="M448.33,164.06 A2.31,2.31 0 0 1 450.28,164.16" fill="none" stroke="#fff6c8" stroke-opacity="0.6" stroke-width="0.50" stroke-linecap="round"/>
<circle cx="451.31" cy="165.26" r="0.35" fill="#fff" opacity="0.65"/>
<path d="M396.5,172.1 L401.9,177.5 L410.8,168.6" fill="none" stroke="#3a7d4f" stroke-width="3.4" stroke-linejoin="miter"/>
<path d="M430.90,160.20 L429.31,160.74 L427.75,161.32 L426.23,161.95 L424.74,162.62 L423.29,163.35 L421.87,164.13 L420.49,164.95 L419.14,165.82 L417.82,166.74 L416.54,167.71 L415.29,168.73 L414.08,169.80 L412.91,170.92 L411.77,172.08 L410.68,173.31 L409.64,174.59 L408.64,175.93 L407.68,177.30 L406.75,178.73 L405.86,180.20 L405.01,181.71 L404.20,183.27 L403.43,184.88 L402.69,186.53 L404.80,187.44 L405.51,185.85 L406.26,184.30 L407.04,182.80 L407.85,181.35 L408.70,179.95 L409.58,178.59 L410.50,177.28 L411.46,176.01 L412.44,174.79 L413.45,173.60 L414.49,172.45 L415.55,171.34 L416.66,170.27 L417.80,169.24 L418.98,168.26 L420.20,167.33 L421.45,166.43 L422.74,165.58 L424.08,164.77 L425.44,164.01 L426.85,163.29 L428.30,162.62 L429.78,161.99 L431.30,161.40Z" fill="url(#fa3)"/><path d="M401.90,191.80 L401.41,184.24 L403.52,187.03 L406.90,186.11Z" fill="#000"/>
<path d="M426.96,172.44C427.51,172.02 428.65,171.88 429.64,172.02C430.63,172.17 431.97,172.52 432.92,173.33C433.86,174.15 434.77,175.62 435.30,176.90C435.82,178.19 436.07,179.78 436.07,181.07C436.07,182.36 435.82,183.75 435.30,184.64C434.77,185.54 433.76,185.95 432.92,186.43C432.07,186.90 430.90,187.60 430.24,187.50C429.57,187.40 429.11,186.51 428.93,185.83C428.75,185.16 429.00,184.20 429.17,183.45C429.34,182.71 429.86,182.16 429.94,181.37C430.02,180.58 429.89,179.53 429.64,178.69C429.39,177.85 429.00,177.00 428.45,176.31C427.91,175.62 426.62,175.17 426.37,174.52C426.12,173.88 426.42,172.86 426.96,172.44Z" fill="#66ba8c"/>
<path d="M426.37,173.04C425.72,173.04 424.29,173.98 423.39,174.82C422.50,175.66 421.61,176.86 421.01,178.10C420.42,179.34 419.99,180.97 419.82,182.26C419.65,183.55 419.75,184.64 420.00,185.83C420.25,187.02 420.69,188.41 421.31,189.40C421.92,190.40 422.80,191.24 423.69,191.79C424.58,192.33 425.82,192.73 426.67,192.68C427.51,192.63 428.37,192.03 428.75,191.49C429.13,190.94 429.08,190.10 428.93,189.40C428.78,188.71 428.15,188.07 427.86,187.32C427.56,186.58 427.19,185.68 427.14,184.94C427.09,184.20 427.29,183.45 427.56,182.86C427.83,182.26 428.45,181.91 428.75,181.37C429.05,180.82 429.39,180.33 429.35,179.58C429.30,178.84 428.80,177.70 428.45,176.90C428.11,176.11 427.61,175.47 427.26,174.82C426.91,174.18 427.01,173.04 426.37,173.04Z" fill="#52ae7f"/>
<path d="M428.9,181.4 C427.6,182.6 427.2,184.6 427.9,186.3 C428.2,184.8 428.7,183.6 429.7,182.6Z" fill="#f2faf6"/>
<text x="439" y="187.6" font-size="8.3" textLength="57.7" lengthAdjust="spacingAndGlyphs" fill="#1a1a1a">Active DDHD2</text>
<text x="372.8" y="202.3" font-size="8.3" textLength="44.2" lengthAdjust="spacingAndGlyphs" fill="#1a1a1a">Fatty acids</text>
<g stroke="#2b2b2b" stroke-linejoin="round">
<path d="M373.80,229.20C374.28,227.65 375.05,224.53 376.70,222.20C378.35,219.87 380.78,217.25 383.70,215.20C386.62,213.15 390.50,211.27 394.20,209.90C397.90,208.53 402.20,207.52 405.90,207.00C409.60,206.48 413.10,206.50 416.40,206.80C419.70,207.10 423.17,207.80 425.70,208.80C428.23,209.80 430.23,211.15 431.60,212.80C432.97,214.45 433.80,216.65 433.90,218.70C434.00,220.75 433.17,223.45 432.20,225.10C431.23,226.75 429.77,227.82 428.10,228.60C426.43,229.38 424.53,229.70 422.20,229.80C419.87,229.90 416.63,229.10 414.10,229.20C411.57,229.30 409.35,229.62 407.00,230.40C404.65,231.18 402.33,232.63 400.00,233.90C397.67,235.17 395.13,236.83 393.00,238.00C390.87,239.17 389.13,240.42 387.20,240.90C385.27,241.38 383.25,241.48 381.40,240.90C379.55,240.32 377.37,238.97 376.10,237.40C374.83,235.83 374.18,232.87 373.80,231.50C373.42,230.13 373.32,230.75 373.80,229.20Z" fill="#a9dbd3" stroke-width="0.85"/>
<path d="M378.25,232.18 L377.18,230.11 L376.97,229.14 L376.92,228.36 L376.96,227.69 L377.05,227.08 L377.19,226.53 L377.35,226.02 L377.55,225.54 L377.76,225.08 L378.00,224.66 L378.25,224.25 L378.51,223.86 L378.79,223.48 L379.08,223.13 L379.37,222.78 L379.68,222.45 L379.99,222.13 L380.32,221.82 L380.68,221.57 L381.15,221.50 L381.83,221.77 L382.69,222.37 L383.58,223.04 L384.34,223.50 L384.92,223.68 L385.36,223.62 L385.73,223.45 L386.08,223.24 L386.44,223.03 L386.77,222.79 L387.03,222.42 L387.17,221.80 L387.14,220.86 L387.00,219.68 L386.90,218.54 L386.97,217.72 L387.23,217.28 L387.59,217.02 L387.97,216.82 L388.36,216.63 L388.75,216.45 L389.14,216.27 L389.53,216.09 L389.92,215.91 L390.31,215.74 L390.70,215.57 L391.10,215.40 L391.49,215.24 L391.89,215.08 L392.29,214.92 L392.70,214.81 L393.19,214.88 L393.81,215.34 L394.58,216.22 L395.39,217.24 L396.10,218.05 L396.67,218.48 L397.13,218.60 L397.52,218.54 L397.90,218.42 L398.27,218.30 L398.64,218.16 L398.96,217.88 L399.21,217.34 L399.36,216.42 L399.42,215.18 L399.50,213.92 L399.68,212.99 L399.99,212.52 L400.37,212.31 L400.78,212.20 L401.19,212.09 L401.60,212.00 L402.02,211.90 L402.43,211.81 L402.84,211.72 L403.26,211.63 L403.67,211.54 L404.09,211.46 L404.50,211.38 L404.92,211.31 L405.35,211.30 L405.81,211.51 L406.34,212.12 L406.92,213.11 L407.49,214.15 L408.01,214.94 L408.47,215.36 L408.89,215.49 L409.28,215.49 L409.67,215.45 L410.07,215.40 L410.45,215.31 L410.83,215.08 L411.18,214.57 L411.50,213.68 L411.82,212.54 L412.15,211.45 L412.53,210.74 L412.93,210.44 L413.36,210.35 L413.78,210.33 L414.21,210.32 L414.64,210.31 L415.06,210.30 L415.49,210.30 L415.92,210.31 L416.35,210.32 L416.78,210.33 L417.20,210.36 L417.63,210.44 L418.06,210.78 L418.47,211.59 L418.86,212.74 L419.25,213.80 L419.63,214.47 L420.03,214.77 L420.43,214.88 L420.83,214.93 L421.24,214.98 L421.64,214.98 L422.07,214.79 L422.52,214.27 L423.00,213.42 L423.50,212.53 L423.98,212.00 L424.42,211.91 L424.84,212.05 L425.25,212.27 L425.65,212.51 L426.05,212.78 L426.44,213.07 L426.83,213.40 L427.21,213.78 L427.58,214.20 L427.93,214.69 L428.27,215.26 L428.58,215.97 L428.84,216.92 L428.85,219.26 L428.85,219.26 L428.07,221.46 L427.54,222.28 L427.06,222.86 L426.61,223.31 L426.17,223.68 L425.76,223.99 L425.35,224.26 L424.95,224.48 L424.56,224.68 L424.18,224.85 L423.80,225.00 L423.43,225.13 L423.06,225.25 L422.70,225.35 L422.34,225.44 L421.98,225.52 L421.63,225.59 L421.28,225.66 L420.93,225.71 L420.58,225.74 L420.24,225.64 L419.92,225.23 L419.61,224.44 L419.30,223.46 L418.97,222.61 L418.63,222.06 L418.28,221.81 L417.92,221.74 L417.56,221.74 L417.20,221.75 L416.84,221.77 L416.48,221.89 L416.13,222.22 L415.79,222.87 L415.47,223.83 L415.16,224.88 L414.86,225.69 L414.54,226.10 L414.22,226.24 L413.90,226.28 L413.57,226.31 L413.24,226.34 L412.92,226.36 L412.60,226.39 L412.27,226.42 L411.95,226.46 L411.62,226.49 L411.30,226.53 L410.98,226.55 L410.65,226.50 L410.28,226.19 L409.85,225.47 L409.37,224.42 L408.87,223.39 L408.41,222.68 L408.00,222.32 L407.63,222.23 L407.28,222.26 L406.93,222.32 L406.58,222.39 L406.25,222.52 L405.95,222.83 L405.72,223.44 L405.58,224.41 L405.49,225.59 L405.39,226.65 L405.21,227.31 L404.94,227.60 L404.64,227.72 L404.33,227.80 L404.02,227.88 L403.71,227.96 L403.39,228.05 L403.08,228.14 L402.77,228.23 L402.46,228.32 L402.15,228.41 L401.84,228.50 L401.53,228.60 L401.23,228.70 L400.91,228.79 L400.58,228.83 L400.18,228.67 L399.65,228.13 L398.97,227.24 L398.27,226.30 L397.65,225.63 L397.15,225.30 L396.74,225.25 L396.39,225.34 L396.06,225.47 L395.73,225.60 L395.41,225.78 L395.16,226.10 L395.02,226.68 L395.03,227.60 L395.16,228.76 L395.28,229.87 L395.26,230.63 L395.07,231.02 L394.79,231.22 L394.49,231.36 L394.18,231.50 L393.88,231.65 L393.57,231.79 L393.26,231.93 L392.96,232.07 L392.65,232.22 L392.34,232.36 L392.03,232.51 L391.71,232.65 L391.39,232.77 L390.99,232.78 L390.42,232.47 L389.63,231.82 L388.80,231.10 L388.10,230.64 L387.59,230.50 L387.19,230.57 L386.85,230.73 L386.51,230.90 L386.18,231.08 L385.92,231.37 L385.79,231.86 L385.84,232.62 L385.98,233.52 L386.03,234.25 L385.85,234.65 L385.51,234.79 L385.10,234.85 L384.67,234.89 L384.22,234.91 L383.76,234.90 L383.26,234.87 L382.74,234.80 L382.17,234.68 L381.55,234.50 L380.84,234.22 L379.98,233.75 L378.25,232.18Z" fill="#f6d940" stroke-width="0.9"/>
</g>
<text x="378.9" y="261.2" font-size="8.3" textLength="15" lengthAdjust="spacingAndGlyphs" fill="#1a1a1a">ATP</text>
<path d="M394.77,240.00 L394.76,241.80 L394.81,243.56 L394.91,245.25 L395.06,246.90 L395.28,248.49 L395.55,250.03 L395.87,251.52 L396.26,252.95 L396.70,254.34 L397.20,255.67 L397.76,256.95 L398.38,258.17 L399.06,259.35 L399.80,260.47 L400.61,261.52 L401.50,262.50 L402.45,263.42 L403.45,264.28 L404.51,265.08 L405.62,265.82 L406.79,266.50 L408.01,267.12 L409.29,267.67 L410.62,268.16 L411.36,265.99 L410.15,265.54 L408.99,265.03 L407.88,264.48 L406.83,263.87 L405.84,263.21 L404.89,262.49 L404.00,261.72 L403.16,260.90 L402.37,260.03 L401.62,259.11 L400.89,258.14 L400.22,257.11 L399.59,256.03 L399.02,254.88 L398.49,253.67 L398.01,252.40 L397.58,251.06 L397.20,249.67 L396.88,248.21 L396.60,246.69 L396.38,245.11 L396.21,243.47 L396.10,241.76 L396.03,240.00Z" fill="url(#fa4)"/><path d="M416.00,268.30 L408.63,270.06 L411.02,267.50 L409.55,264.33Z" fill="#000"/>
<path d="M401,251 L407.8,257.5 L418.3,246.2" fill="none" stroke="#3a7d4f" stroke-width="3.4" stroke-linejoin="miter"/>
<path d="M461.56,259.41 L462.32,259.23 L463.06,259.03 L463.80,258.80 L464.52,258.54 L465.24,258.25 L465.94,257.93 L466.64,257.59 L467.32,257.21 L467.99,256.81 L468.65,256.38 L469.30,255.92 L469.94,255.44 L470.57,254.93 L471.18,254.38 L471.76,253.80 L472.32,253.18 L472.87,252.53 L473.40,251.86 L473.92,251.16 L474.42,250.44 L474.91,249.69 L475.39,248.92 L475.85,248.12 L476.30,247.30 L474.27,246.22 L473.85,247.00 L473.41,247.74 L472.97,248.46 L472.52,249.15 L472.05,249.82 L471.58,250.46 L471.09,251.08 L470.59,251.67 L470.08,252.23 L469.57,252.78 L469.07,253.32 L468.55,253.83 L468.01,254.32 L467.47,254.79 L466.91,255.24 L466.34,255.66 L465.75,256.06 L465.15,256.43 L464.53,256.78 L463.90,257.11 L463.26,257.42 L462.60,257.70 L461.93,257.96 L461.24,258.19Z" fill="url(#fa5)"/><path d="M477.30,242.30 L477.44,249.43 L475.59,246.73 L472.40,247.48Z" fill="#000"/>
<text x="453.5" y="268.0" font-size="8.3" textLength="49.4" lengthAdjust="spacingAndGlyphs" fill="#1a1a1a">Endocytosis</text>
<text x="516.1" y="109.4" font-size="8.3" textLength="14.6" lengthAdjust="spacingAndGlyphs" fill="#1a1a1a">LDs</text>
<text x="516.1" y="119.9" font-size="8.3" textLength="48.3" lengthAdjust="spacingAndGlyphs" fill="#1a1a1a">accumulate</text>
<circle cx="530.5" cy="138.3" r="14.8" fill="url(#ldg)" stroke="#d9a616" stroke-width="0.7"/>
<ellipse cx="529.76" cy="131.64" rx="9.18" ry="5.33" fill="#fff3a8" opacity="0.22"/>
<path d="M526.62,128.69 A10.36,10.36 0 0 1 535.36,129.15" fill="none" stroke="#fff6c8" stroke-opacity="0.6" stroke-width="1.63" stroke-linecap="round"/>
<circle cx="539.96" cy="134.09" r="0.67" fill="#fff" opacity="0.65"/>
<circle cx="562.4" cy="150.5" r="22.6" fill="url(#ldg)" stroke="#d9a616" stroke-width="0.7"/>
<ellipse cx="561.27" cy="140.33" rx="14.01" ry="8.14" fill="#fff3a8" opacity="0.22"/>
<path d="M556.47,135.83 A15.82,15.82 0 0 1 569.83,136.53" fill="none" stroke="#fff6c8" stroke-opacity="0.6" stroke-width="2.49" stroke-linecap="round"/>
<circle cx="576.85" cy="144.07" r="1.02" fill="#fff" opacity="0.65"/>
<circle cx="535.6" cy="161.1" r="14.4" fill="url(#ldg2)" stroke="#d9a616" stroke-width="0.7"/>
<ellipse cx="534.88" cy="154.62" rx="8.93" ry="5.18" fill="#fff3a8" opacity="0.22"/>
<path d="M531.82,151.75 A10.08,10.08 0 0 1 540.33,152.20" fill="none" stroke="#fff6c8" stroke-opacity="0.6" stroke-width="1.58" stroke-linecap="round"/>
<circle cx="544.81" cy="157.00" r="0.65" fill="#fff" opacity="0.65"/>
<path d="M603.2,174.29999999999998 L614.0,185.1 M614.0,174.29999999999998 L603.2,185.1" fill="none" stroke="#fa0a10" stroke-width="3.6"/>
<path d="M580.00,181.43C580.20,180.44 580.79,178.61 582.02,177.62C583.25,176.63 585.60,175.71 587.38,175.48C589.17,175.24 591.39,175.54 592.74,176.19C594.09,176.85 595.14,178.27 595.48,179.40C595.81,180.54 595.22,182.08 594.76,182.98C594.31,183.87 593.41,184.66 592.74,184.76C592.06,184.86 590.97,184.17 590.71,183.57C590.46,182.98 591.45,181.79 591.19,181.19C590.93,180.60 590.10,179.90 589.17,180.00C588.23,180.10 586.59,181.09 585.60,181.79C584.60,182.48 584.01,183.87 583.21,184.17C582.42,184.46 581.37,184.03 580.83,183.57C580.30,183.12 579.80,182.42 580.00,181.43Z" fill="#e68589"/>
<path d="M587.98,184.17C588.63,183.47 590.46,182.78 591.55,182.98C592.64,183.17 594.03,184.27 594.52,185.36C595.02,186.45 595.02,188.23 594.52,189.52C594.03,190.81 592.84,192.00 591.55,193.10C590.26,194.19 588.37,195.44 586.79,196.07C585.20,196.71 583.41,197.10 582.02,196.90C580.63,196.71 578.99,195.81 578.45,194.88C577.92,193.95 578.21,192.10 578.81,191.31C579.40,190.52 580.89,190.42 582.02,190.12C583.15,189.82 584.66,190.02 585.60,189.52C586.53,189.03 587.22,188.04 587.62,187.14C588.02,186.25 587.32,184.86 587.98,184.17Z" fill="#e37c80"/>
<text x="514.7" y="188.2" font-size="8.3" textLength="64.4" lengthAdjust="spacingAndGlyphs" fill="#1a1a1a">Inactive DDHD2</text>
<g stroke="#2b2b2b" stroke-linejoin="round">
<path d="M573.33,223.33C573.33,221.55 573.93,219.46 575.12,217.98C576.31,216.49 578.19,215.26 580.48,214.40C582.76,213.55 586.03,213.25 588.81,212.86C591.59,212.46 594.56,212.66 597.14,212.02C599.72,211.39 601.90,210.44 604.29,209.05C606.67,207.66 609.25,205.12 611.43,203.69C613.61,202.26 615.40,201.07 617.38,200.48C619.37,199.88 621.45,199.78 623.33,200.12C625.22,200.46 627.30,201.31 628.69,202.50C630.08,203.69 631.21,205.48 631.67,207.26C632.12,209.05 632.02,211.13 631.43,213.21C630.83,215.30 629.64,217.68 628.10,219.76C626.55,221.85 624.52,223.93 622.14,225.71C619.76,227.50 616.79,229.19 613.81,230.48C610.83,231.77 607.46,232.70 604.29,233.45C601.11,234.21 597.74,234.70 594.76,235.00C591.79,235.30 589.01,235.60 586.43,235.24C583.85,234.88 581.17,233.95 579.29,232.86C577.40,231.77 576.11,230.28 575.12,228.69C574.13,227.10 573.33,225.12 573.33,223.33Z" fill="#a9dbd3" stroke-width="0.85"/>
<path d="M577.38,225.15 L577.95,222.87 L578.37,221.99 L578.76,221.36 L579.13,220.87 L579.49,220.45 L579.84,220.10 L580.18,219.80 L580.52,219.54 L580.85,219.30 L581.17,219.10 L581.50,218.91 L581.82,218.74 L582.14,218.59 L582.45,218.48 L582.77,218.50 L583.08,218.87 L583.41,219.65 L583.75,220.54 L584.09,221.19 L584.43,221.49 L584.77,221.55 L585.11,221.53 L585.44,221.48 L585.77,221.42 L586.09,221.22 L586.39,220.75 L586.66,219.88 L586.89,218.79 L587.13,217.86 L587.40,217.37 L587.69,217.20 L588.00,217.13 L588.30,217.08 L588.61,217.03 L588.92,216.98 L589.22,216.93 L589.53,216.88 L589.84,216.83 L590.15,216.77 L590.46,216.72 L590.76,216.66 L591.07,216.61 L591.38,216.55 L591.69,216.49 L592.00,216.43 L592.31,216.38 L592.64,216.40 L593.03,216.71 L593.54,217.55 L594.17,218.88 L594.84,220.27 L595.44,221.31 L595.94,221.86 L596.35,222.02 L596.71,222.00 L597.06,221.91 L597.41,221.81 L597.75,221.66 L598.02,221.31 L598.19,220.59 L598.21,219.38 L598.11,217.84 L598.02,216.36 L598.06,215.38 L598.26,214.91 L598.55,214.73 L598.86,214.61 L599.17,214.51 L599.49,214.40 L599.80,214.29 L600.12,214.18 L600.43,214.06 L600.75,213.94 L601.06,213.83 L601.38,213.70 L601.70,213.58 L602.01,213.46 L602.33,213.33 L602.65,213.20 L602.97,213.07 L603.28,212.93 L603.60,212.80 L603.92,212.66 L604.24,212.52 L604.56,212.38 L604.88,212.23 L605.21,212.11 L605.59,212.08 L606.11,212.36 L606.85,213.05 L607.72,214.01 L608.56,214.87 L609.24,215.39 L609.76,215.56 L610.17,215.50 L610.52,215.34 L610.87,215.16 L611.21,214.96 L611.51,214.69 L611.70,214.23 L611.72,213.44 L611.54,212.31 L611.26,211.04 L611.09,209.97 L611.15,209.31 L611.38,208.97 L611.70,208.76 L612.03,208.58 L612.37,208.40 L612.71,208.22 L613.05,208.04 L613.40,207.87 L613.83,207.83 L614.46,208.09 L615.31,208.70 L616.22,209.36 L616.98,209.78 L617.54,209.88 L617.96,209.77 L618.33,209.57 L618.70,209.37 L619.05,209.15 L619.34,208.83 L619.49,208.30 L619.44,207.51 L619.30,206.58 L619.26,205.82 L619.46,205.39 L619.84,205.21 L620.29,205.10 L620.76,205.03 L621.24,204.97 L621.75,204.94 L622.29,204.94 L622.86,204.97 L623.47,205.04 L624.14,205.19 L624.89,205.43 L625.81,205.86 L627.62,207.40 L627.62,207.40 L628.71,209.51 L628.91,210.51 L628.94,211.32 L628.89,212.02 L628.79,212.65 L628.64,213.23 L628.43,213.75 L628.08,214.06 L627.46,214.03 L626.69,213.76 L626.00,213.62 L625.51,213.72 L625.15,214.00 L624.82,214.32 L624.49,214.65 L624.20,215.03 L624.05,215.61 L624.14,216.54 L624.36,217.69 L624.46,218.66 L624.28,219.22 L623.95,219.57 L623.60,219.87 L623.23,220.17 L622.87,220.45 L622.48,220.70 L622.02,220.84 L621.41,220.73 L620.60,220.28 L619.66,219.60 L618.74,218.94 L617.96,218.49 L617.35,218.31 L616.87,218.35 L616.47,218.52 L616.10,218.72 L615.73,218.94 L615.37,219.16 L615.04,219.44 L614.79,219.87 L614.67,220.55 L614.71,221.52 L614.85,222.70 L614.96,223.86 L614.92,224.75 L614.71,225.30 L614.37,225.61 L613.98,225.83 L613.59,226.03 L613.19,226.22 L612.80,226.41 L612.40,226.60 L612.00,226.79 L611.60,226.97 L611.21,227.15 L610.81,227.33 L610.41,227.50 L609.99,227.63 L609.51,227.61 L608.90,227.27 L608.15,226.57 L607.36,225.75 L606.66,225.11 L606.09,224.78 L605.63,224.72 L605.23,224.81 L604.85,224.95 L604.47,225.09 L604.10,225.25 L603.77,225.52 L603.52,226.02 L603.37,226.83 L603.30,227.92 L603.23,229.02 L603.05,229.84 L602.75,230.28 L602.37,230.48 L601.97,230.62 L601.57,230.74 L601.16,230.86 L600.76,230.97 L600.35,231.09 L599.95,231.20 L599.54,231.31 L599.13,231.41 L598.73,231.52 L598.32,231.62 L597.92,231.71 L597.51,231.81 L597.10,231.90 L596.69,231.99 L596.29,232.08 L595.88,232.16 L595.47,232.24 L595.06,232.30 L594.63,232.25 L594.13,231.83 L593.56,230.93 L592.96,229.82 L592.42,228.97 L591.96,228.54 L591.55,228.42 L591.17,228.44 L590.79,228.49 L590.41,228.56 L590.04,228.73 L589.70,229.18 L589.41,230.04 L589.13,231.22 L588.84,232.28 L588.48,232.88 L588.09,233.07 L587.68,233.10 L587.27,233.10 L586.85,233.09 L586.44,233.04 L586.02,232.78 L585.58,232.05 L585.14,230.98 L584.71,230.09 L584.31,229.64 L583.92,229.48 L583.54,229.42 L583.15,229.37 L582.77,229.37 L582.38,229.55 L581.99,230.09 L581.58,230.87 L581.17,231.47 L580.77,231.60 L580.38,231.44 L579.99,231.18 L579.61,230.88 L579.24,230.53 L578.87,230.14 L578.51,229.68 L578.16,229.13 L577.83,228.44 L577.53,227.51 L577.38,225.15Z" fill="#fde8d5" stroke-width="0.9"/>
</g>
<path d="M583.08,165.29 L584.52,165.91 L585.90,166.60 L587.22,167.35 L588.49,168.18 L589.70,169.08 L590.86,170.04 L591.97,171.08 L593.02,172.19 L594.02,173.36 L594.97,174.61 L595.86,175.93 L596.70,177.32 L597.50,178.78 L598.24,180.31 L598.95,181.91 L599.62,183.58 L600.24,185.32 L600.81,187.14 L601.33,189.04 L601.80,191.01 L602.22,193.06 L602.59,195.19 L602.91,197.39 L603.17,199.66 L605.46,199.43 L605.19,197.09 L604.86,194.83 L604.48,192.64 L604.05,190.52 L603.56,188.47 L603.02,186.49 L602.42,184.59 L601.77,182.76 L601.06,181.01 L600.28,179.33 L599.43,177.74 L598.53,176.22 L597.57,174.78 L596.55,173.42 L595.48,172.13 L594.36,170.93 L593.18,169.80 L591.96,168.75 L590.68,167.78 L589.35,166.89 L587.96,166.07 L586.53,165.34 L585.05,164.68 L583.52,164.11Z" fill="url(#fa6)"/><path d="M604.70,204.60 L601.44,197.76 L604.44,199.57 L607.23,197.46Z" fill="#000"/>
<path d="M582.6,247.6 L593.4,258.4 M593.4,247.6 L582.6,258.4" fill="none" stroke="#fa0a10" stroke-width="3.6"/>
<path d="M599.97,239.68 L599.87,241.28 L599.72,242.84 L599.54,244.38 L599.31,245.88 L599.05,247.36 L598.74,248.81 L598.39,250.23 L597.99,251.62 L597.56,252.99 L597.09,254.32 L596.57,255.62 L596.01,256.90 L595.42,258.15 L594.78,259.37 L594.12,260.57 L593.44,261.75 L592.71,262.91 L591.94,264.04 L591.13,265.15 L590.27,266.23 L589.38,267.28 L588.44,268.32 L587.46,269.32 L586.44,270.30 L588.01,271.99 L589.08,270.95 L590.12,269.89 L591.11,268.80 L592.05,267.69 L592.96,266.54 L593.82,265.37 L594.63,264.17 L595.41,262.94 L596.13,261.69 L596.80,260.40 L597.41,259.08 L597.97,257.73 L598.49,256.36 L598.96,254.97 L599.39,253.55 L599.77,252.11 L600.11,250.64 L600.40,249.15 L600.65,247.64 L600.85,246.10 L601.01,244.54 L601.13,242.96 L601.20,241.35 L601.23,239.72Z" fill="url(#fa7)"/><path d="M583.30,274.40 L587.19,267.90 L587.35,271.40 L590.65,272.56Z" fill="#000"/>
<text x="604.2" y="247.7" font-size="8.3" textLength="15.2" lengthAdjust="spacingAndGlyphs" fill="#1a1a1a">ATP</text>
<text x="604.2" y="258.3" font-size="8.3" textLength="35.5" lengthAdjust="spacingAndGlyphs" fill="#1a1a1a">depleted</text>
<text x="568" y="267.2" font-size="8.3" text-anchor="end" textLength="49.1" lengthAdjust="spacingAndGlyphs" fill="#1a1a1a">Endocytosis</text>
<text x="568" y="277.2" font-size="8.3" text-anchor="end" textLength="29.1" lengthAdjust="spacingAndGlyphs" fill="#1a1a1a">ceased</text>
<path d="M403.5,312.4 V372.6 H482.7" fill="none" stroke="#2b2b2b" stroke-width="1"/>
<path d="M403.90,323.00C404.92,323.32 407.70,324.40 410.00,324.90C412.30,325.40 414.37,325.67 417.70,326.00C421.03,326.33 425.92,326.68 430.00,326.90C434.08,327.12 437.20,327.27 442.20,327.30C447.20,327.33 453.38,327.23 460.00,327.10C466.62,326.97 478.25,326.60 481.90,326.50" fill="none" stroke="#3a6fb5" stroke-width="1.3"/>
<g transform="translate(423.4,310.7) scale(0.745)" stroke="#111" stroke-width="0.738" stroke-linejoin="round" fill="#d9d9d9">
<path d="M5.1,48.5 C7,46 9,43.5 10.7,41.4 C13,38.8 16,36.5 18.6,35.3 C21,34.5 25,34.8 28.2,35.3 C30,34 32,33.2 34.3,32.8 C37,32.2 40,32 42.9,32.1 C46,32.2 50,33.5 52.6,36.4 C55,39 56.8,41.5 57.8,43.7 C59,46.5 59.8,49 60.4,51.5 C61,53.2 62,54.3 63.1,54.8 C65,55.5 67.5,55.8 69.6,56.1 C72,56.5 74.5,57 76.2,58.1 C77.6,58.9 78.5,59.7 78.6,60.7 C78.7,62 78,63.2 76.9,64 C75.5,65 73.5,65.5 71,66 C67.5,66.7 64,67.2 60.4,67.6 C57,68 53.5,68.5 49.9,68.9 C53,68 56,67.3 59.1,66.6 C62.5,65.9 66,65.5 69.6,64.7 C71.5,64.3 73.5,63.7 74.9,62.7 C75.9,62 76.4,61 76.2,60.1 C76,59.3 75,59 73.6,58.8 C71,58.3 68,58 65.7,57.4 C63.5,56.8 61.5,55.5 59.8,54.4 L58.8,54.8 C57.8,55.1 57,55.3 56,55.5 C54.4,56 52.8,56.5 51.1,56.9 C49.7,57.2 48.3,57.4 46.9,57.6 C46.3,58.1 45.8,58.4 45.2,58.6 C44.2,58.9 43,59.05 42,59 C41.2,58.95 40.3,58.9 39.9,58.6 C39.7,58.2 39.9,57.8 40.3,57.6 C41,57.2 41.9,56.9 42.7,56.5 C42.3,56.2 41.8,56 41.3,55.8 C39.9,55.4 38.5,55.2 37.1,55.1 C35.8,55 34.5,55 33.3,55.1 C32.7,55.6 32.1,56.1 31.5,56.5 C30.6,56.9 29.6,57.2 28.7,57.4 C27.5,57.7 26.3,57.9 25.2,58.3 C24.7,58.8 24.1,59.2 23.5,59.5 C22.5,59.75 21.3,59.8 20.3,59.7 C19.5,59.65 18.6,59.6 18.2,59.2 C17.9,58.7 18,58.2 18.3,57.9 C18.8,57.4 19.4,57 20,56.7 C20.8,56.55 21.6,56.6 22.4,56.5 C23.3,56 24.2,55.4 24.9,54.8 C24.2,54.1 23.3,53.5 22.4,53.1 C20.5,52.3 17.5,51.6 14.3,51 C12,50.6 9.5,50.4 7.1,49.9 C6,49.6 5.2,49.2 5.1,48.5Z"/>
<path d="M18.6,35.3 C19,33.8 19.8,32.5 20.7,31.7 C21.4,31.1 22.2,30.8 22.9,31 C23.7,31.3 24,32.2 23.9,33.1 C23.8,34.1 23.4,35.2 22.9,36 L21.5,37Z"/>
<path d="M22.1,39.9 C21.4,38.8 21.2,37.7 21.4,36.7 C21.8,35.2 23,33.8 24.3,33.1 C25,32.7 25.8,32.6 26.4,32.8 C27.5,33.3 28,34.6 27.9,36 C27.8,37.4 27.2,38.8 26.4,39.9 C25.8,40.8 25.1,41.8 24.3,42.4 C23.5,41.8 22.7,40.9 22.1,39.9Z"/>
<path d="M23,38.6 C22.9,37.2 23.5,35.6 24.6,34.6" fill="none" stroke-width="0.591"/>
<path d="M18.4,58.3 L20.4,58.0 M18.3,58.9 L20.8,58.8 M40.2,57.9 L43.6,57.0 M40.1,58.4 L44.2,57.9 M41,58.85 L44,58.5" fill="none" stroke-width="0.664"/>
<circle cx="14.5" cy="44.1" r="1.75" fill="#000" stroke="none"/>
</g>
<path d="M530.4,313.2 V373.6 H609" fill="none" stroke="#2b2b2b" stroke-width="1"/>
<path d="M530.80,324.10C532.78,325.05 538.83,327.53 542.70,329.80C546.57,332.07 549.92,334.50 554.00,337.70C558.08,340.90 562.80,346.18 567.20,349.00C571.60,351.82 576.02,353.42 580.40,354.60C584.78,355.78 588.73,356.03 593.50,356.10C598.27,356.17 606.42,355.18 609.00,355.00" fill="none" stroke="#d5252b" stroke-width="1.3"/>
<g transform="translate(555,295.5) scale(0.73)" stroke="#111" stroke-width="0.753" stroke-linejoin="round" fill="#cfeceb">
<path d="M5.1,48.5 C7,46 9,43.5 10.7,41.4 C13,38.8 16,36.5 18.6,35.3 C21,34.5 25,34.8 28.2,35.3 C30,34 32,33.2 34.3,32.8 C37,32.2 40,32 42.9,32.1 C46,32.2 50,33.5 52.6,36.4 C55,39 56.8,41.5 57.8,43.7 C59,46.5 59.8,49 60.4,51.5 C61,53.2 62,54.3 63.1,54.8 C65,55.5 67.5,55.8 69.6,56.1 C72,56.5 74.5,57 76.2,58.1 C77.6,58.9 78.5,59.7 78.6,60.7 C78.7,62 78,63.2 76.9,64 C75.5,65 73.5,65.5 71,66 C67.5,66.7 64,67.2 60.4,67.6 C57,68 53.5,68.5 49.9,68.9 C53,68 56,67.3 59.1,66.6 C62.5,65.9 66,65.5 69.6,64.7 C71.5,64.3 73.5,63.7 74.9,62.7 C75.9,62 76.4,61 76.2,60.1 C76,59.3 75,59 73.6,58.8 C71,58.3 68,58 65.7,57.4 C63.5,56.8 61.5,55.5 59.8,54.4 L58.8,54.8 C57.8,55.1 57,55.3 56,55.5 C54.4,56 52.8,56.5 51.1,56.9 C49.7,57.2 48.3,57.4 46.9,57.6 C46.3,58.1 45.8,58.4 45.2,58.6 C44.2,58.9 43,59.05 42,59 C41.2,58.95 40.3,58.9 39.9,58.6 C39.7,58.2 39.9,57.8 40.3,57.6 C41,57.2 41.9,56.9 42.7,56.5 C42.3,56.2 41.8,56 41.3,55.8 C39.9,55.4 38.5,55.2 37.1,55.1 C35.8,55 34.5,55 33.3,55.1 C32.7,55.6 32.1,56.1 31.5,56.5 C30.6,56.9 29.6,57.2 28.7,57.4 C27.5,57.7 26.3,57.9 25.2,58.3 C24.7,58.8 24.1,59.2 23.5,59.5 C22.5,59.75 21.3,59.8 20.3,59.7 C19.5,59.65 18.6,59.6 18.2,59.2 C17.9,58.7 18,58.2 18.3,57.9 C18.8,57.4 19.4,57 20,56.7 C20.8,56.55 21.6,56.6 22.4,56.5 C23.3,56 24.2,55.4 24.9,54.8 C24.2,54.1 23.3,53.5 22.4,53.1 C20.5,52.3 17.5,51.6 14.3,51 C12,50.6 9.5,50.4 7.1,49.9 C6,49.6 5.2,49.2 5.1,48.5Z"/>
<path d="M18.6,35.3 C19,33.8 19.8,32.5 20.7,31.7 C21.4,31.1 22.2,30.8 22.9,31 C23.7,31.3 24,32.2 23.9,33.1 C23.8,34.1 23.4,35.2 22.9,36 L21.5,37Z"/>
<path d="M22.1,39.9 C21.4,38.8 21.2,37.7 21.4,36.7 C21.8,35.2 23,33.8 24.3,33.1 C25,32.7 25.8,32.6 26.4,32.8 C27.5,33.3 28,34.6 27.9,36 C27.8,37.4 27.2,38.8 26.4,39.9 C25.8,40.8 25.1,41.8 24.3,42.4 C23.5,41.8 22.7,40.9 22.1,39.9Z"/>
<path d="M23,38.6 C22.9,37.2 23.5,35.6 24.6,34.6" fill="none" stroke-width="0.603"/>
<path d="M18.4,58.3 L20.4,58.0 M18.3,58.9 L20.8,58.8 M40.2,57.9 L43.6,57.0 M40.1,58.4 L44.2,57.9 M41,58.85 L44,58.5" fill="none" stroke-width="0.678"/>
<path d="M12.6,43.2 C13.5,44.3 15,44.4 16.3,43.6" fill="none"/>
</g>
<text x="423.7" y="385.2" font-size="10.4" textLength="38.8" lengthAdjust="spacingAndGlyphs" fill="#1a1a1a">Time (h)</text>
<text x="550.2" y="385.6" font-size="10.4" textLength="38.6" lengthAdjust="spacingAndGlyphs" fill="#1a1a1a">Time (h)</text>
<g transform="translate(396.0,344.3) rotate(-90)">
<text x="0" y="0" font-size="10.4" text-anchor="middle" textLength="77.2" lengthAdjust="spacingAndGlyphs" fill="#1a1a1a">Body temp. (°C)</text>
</g>
<g transform="translate(522.6,344.3) rotate(-90)">
<text x="0" y="0" font-size="10.4" text-anchor="middle" textLength="77.2" lengthAdjust="spacingAndGlyphs" fill="#1a1a1a">Body temp. (°C)</text>
</g>
</svg></body></html>
